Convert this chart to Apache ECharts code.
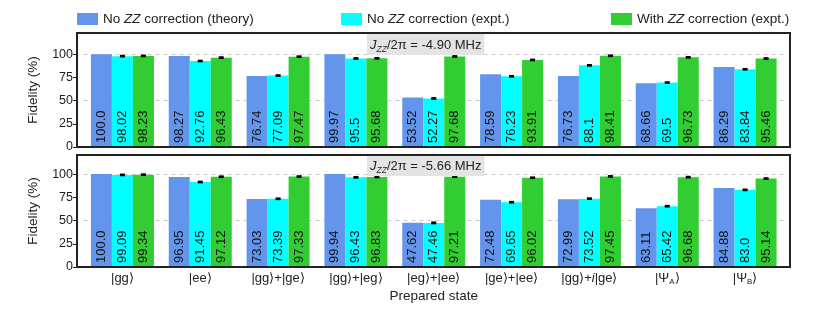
<!DOCTYPE html>
<html><head><meta charset="utf-8">
<script src="https://cdn.jsdelivr.net/npm/echarts@6/dist/echarts.min.js"></script>
<style>html,body{margin:0;padding:0;background:#fff}#c{width:830px;height:309px}</style>
</head><body><div id="c"></div>
<script>
const categories = ['|gg⟩','|ee⟩','|gg⟩+|ge⟩','|gg⟩+|eg⟩','|eg⟩+|ee⟩','|ge⟩+|ee⟩','|gg⟩+i|ge⟩','|ΨA⟩','|ΨB⟩'];
const seriesNames = ['No ZZ correction (theory)','No ZZ correction (expt.)','With ZZ correction (expt.)'];
const yTicks = [0,25,50,75,100];
// Panel 1: J_ZZ/2π = -4.90 MHz
const topLabel = '-4.90 MHz';
const topTheory = [100.0, 98.27, 76.74, 99.97, 53.52, 78.59, 76.73, 68.66, 86.29];
const topNoZZ   = [98.02, 92.76, 77.09, 95.5, 52.27, 76.23, 88.1, 69.5, 83.84];
const topWithZZ = [98.23, 96.43, 97.47, 95.68, 97.68, 93.91, 98.41, 96.73, 95.46];
const topNoZZErr   = [0.6, 0.6, 0.6, 0.6, 0.7, 0.6, 0.6, 0.6, 0.6];
const topWithZZErr = [0.6, 0.6, 0.6, 0.6, 0.6, 0.6, 0.6, 0.6, 0.6];
// Panel 2: J_ZZ/2π = -5.66 MHz
const botLabel = '-5.66 MHz';
const botTheory = [100.0, 96.95, 73.03, 99.94, 47.62, 72.48, 72.99, 63.11, 84.88];
const botNoZZ   = [99.09, 91.45, 73.39, 96.43, 47.46, 69.65, 73.52, 65.42, 83.0];
const botWithZZ = [99.34, 97.12, 97.33, 96.83, 97.21, 96.02, 97.45, 96.68, 95.14];
const botNoZZErr   = [0.6, 0.6, 0.6, 0.6, 0.7, 0.6, 0.6, 0.6, 0.6];
const botWithZZErr = [0.6, 0.6, 0.6, 0.6, 0.6, 0.6, 0.6, 0.6, 0.6];

const colors = ['#6495ED','#00FFFF','#32CD32'];
const FONT = "'Liberation Sans', Arial, sans-serif";
const BW = 21;

function fmtVal(v){ let s = String(v); if (s.indexOf('.') < 0) s += '.0'; return s; }
function fmtCat(c){
  return c.replace('+i|', '+{it|i}|').replace('ΨA', 'Ψ{sub|A}').replace('ΨB', 'Ψ{sub|B}');
}
const chart = echarts.init(document.getElementById('c'));

const grids = [
  {left: 83.5, right: 46, top: 33, height: 114},
  {left: 83.5, right: 46, top: 155, height: 112}
];
const ymax = [123, 120.5];

const xAxes = grids.map((g, i) => ({
  type: 'category', gridIndex: i, data: categories,
  axisLine: {show: false}, axisTick: {show: false},
  axisLabel: i === 1 ? {
    show: true, interval: 0, margin: 3, fontSize: 13, color: '#222', fontFamily: FONT, lineHeight: 16,
    formatter: fmtCat,
    rich: {it: {fontStyle: 'italic', fontSize: 13, fontFamily: FONT, color:'#222', lineHeight: 16},
           sub: {fontSize: 8, lineHeight: 8, verticalAlign: 'bottom', fontFamily: FONT, color:'#222'}}
  } : {show: false},
  name: i === 1 ? 'Prepared state' : '',
  nameLocation: 'middle', nameGap: 22,
  nameTextStyle: {fontSize: 13.5, color: '#222', fontFamily: FONT}
}));

const yAxes = [];
grids.forEach((g, i) => {
  yAxes.push({
    type: 'value', gridIndex: i, min: 0, max: ymax[i], offset: 6.5,
    axisLine: {show: false},
    axisTick: {show: true, length: 4, customValues: yTicks, lineStyle: {color: '#222'}},
    axisLabel: {show: true, customValues: yTicks, margin: 4, fontSize: 12.5, color: '#222', fontFamily: FONT},
    splitLine: {show: false},
    name: 'Fidelity (%)', nameLocation: 'middle', nameGap: 37,
    nameTextStyle: {fontSize: 13.5, color: '#222', fontFamily: FONT}
  });
  yAxes.push({
    type: 'value', gridIndex: i, min: 0, max: ymax[i], interval: 50, position: 'right',
    axisLine: {show: false}, axisTick: {show: false}, axisLabel: {show: false},
    splitLine: {show: true, lineStyle: {color: '#cccccc', type: [4, 4], width: 1}}
  });
});

function barSeries(name, data, color, gi){
  return {
    type: 'bar', name: name, xAxisIndex: gi, yAxisIndex: gi * 2,
    data: data, barWidth: BW, barGap: '0%',
    itemStyle: {color: color},
    label: {
      show: true, position: 'insideBottom', rotate: 90, align: 'left', verticalAlign: 'middle',
      distance: 4, fontSize: 13, color: '#111', fontFamily: FONT,
      formatter: p => fmtVal(p.value)
    },
    z: 2
  };
}
function errSeries(vals, errs, off, gi){
  return {
    type: 'custom', xAxisIndex: gi, yAxisIndex: gi * 2, z: 5, silent: true,
    data: vals.map((v, k) => [k, v, errs[k]]),
    encode: {x: 0, y: 1},
    renderItem: function(params, api){
      const k = api.value(0), v = api.value(1), e = api.value(2);
      const hi = api.coord([k, v + e]), lo = api.coord([k, v - e]);
      const x = hi[0] + off;
      const st = {stroke: '#000', lineWidth: 1.6};
      return {type: 'group', children: [
        {type: 'line', shape: {x1: x, y1: hi[1], x2: x, y2: lo[1]}, style: st},
        {type: 'line', shape: {x1: x - 2.5, y1: hi[1], x2: x + 2.5, y2: hi[1]}, style: st},
        {type: 'line', shape: {x1: x - 2.5, y1: lo[1], x2: x + 2.5, y2: lo[1]}, style: st}
      ]};
    }
  };
}

const series = [
  barSeries(seriesNames[0], topTheory, colors[0], 0),
  barSeries(seriesNames[1], topNoZZ, colors[1], 0),
  barSeries(seriesNames[2], topWithZZ, colors[2], 0),
  errSeries(topNoZZ, topNoZZErr, 0, 0),
  errSeries(topWithZZ, topWithZZErr, BW, 0),
  barSeries(seriesNames[0], botTheory, colors[0], 1),
  barSeries(seriesNames[1], botNoZZ, colors[1], 1),
  barSeries(seriesNames[2], botWithZZ, colors[2], 1),
  errSeries(botNoZZ, botNoZZErr, 0, 1),
  errSeries(botWithZZ, botWithZZErr, BW, 1)
];

const legendLefts = [72, 336, 606];
const legends = seriesNames.map((n, i) => ({
  data: [n], left: legendLefts[i], top: 7, itemWidth: 21, itemHeight: 12, icon: 'rect',
  selectedMode: false,
  formatter: s => s.replace('ZZ', '{i|ZZ}'),
  textStyle: {fontSize: 13.5, color: '#222', fontFamily: FONT,
    rich: {i: {fontStyle: 'italic', fontSize: 13.5, color: '#222', fontFamily: FONT}}}
}));

function annot(y, label){
  return {
    type: 'text', left: 367, top: y, z: 10,
    style: {
      text: '{j|J}{s|ZZ}{n|/2π = ' + label + '}',
      backgroundColor: '#e4e4e4', padding: [2, 3, 1, 3],
      rich: {
        j: {fontStyle: 'italic', fontSize: 13, fontFamily: FONT, fill: '#222', lineHeight: 18},
        s: {fontStyle: 'italic', fontSize: 8.5, fontFamily: FONT, fill: '#222', lineHeight: 9, verticalAlign: 'bottom'},
        n: {fontSize: 13, fontFamily: FONT, fill: '#222', lineHeight: 18}
      }
    }
  };
}

const option = {
  animation: false,
  textStyle: {fontFamily: FONT},
  color: colors,
  legend: legends,
  grid: grids,
  xAxis: xAxes,
  yAxis: yAxes,
  series: series,
  graphic: [
    {type: 'rect', shape: {x: 77, y: 33, width: 713, height: 114}, style: {fill: 'none', stroke: '#222', lineWidth: 2}, z: 20, silent: true},
    {type: 'rect', shape: {x: 77, y: 155, width: 713, height: 112}, style: {fill: 'none', stroke: '#222', lineWidth: 2}, z: 20, silent: true},
    annot(34, topLabel),
    annot(155, botLabel)
  ]
};
chart.setOption(option);
</script>
</body></html>
